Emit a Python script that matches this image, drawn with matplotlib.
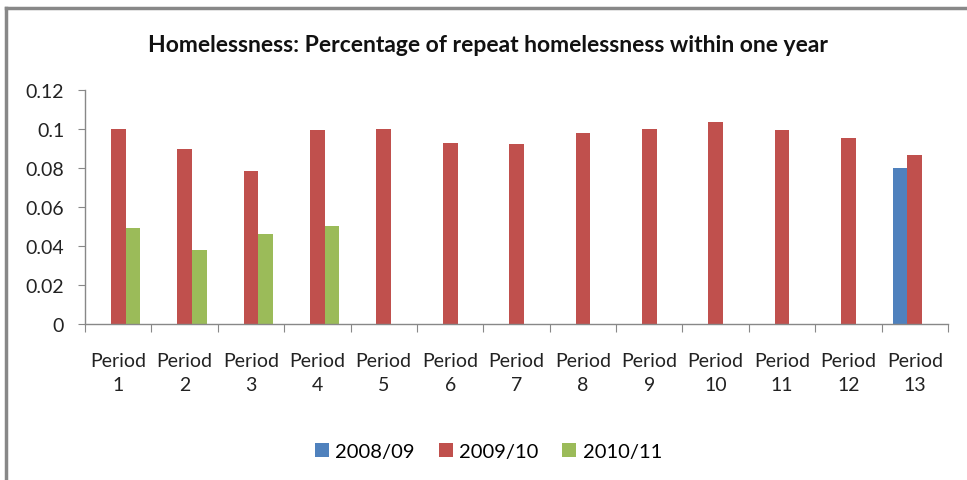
import numpy as np
import matplotlib.pyplot as plt
from matplotlib.lines import Line2D
from matplotlib.patches import Patch

plt.rcParams['font.family'] = ['Lato', 'DejaVu Sans']

periods = ['Period\n%d' % i for i in range(1, 14)]
series = ['2008/09', '2009/10', '2010/11']
colors = ['#4f81bd', '#c0504d', '#9bbb59']

# nan where a year has no figure for that period
v0809 = [np.nan] * 12 + [0.080]
v0910 = [0.100, 0.090, 0.0785, 0.0995, 0.100, 0.093, 0.0925, 0.098, 0.100, 0.1035, 0.0995, 0.0955, 0.0865]
v1011 = [0.049, 0.038, 0.046, 0.0505] + [np.nan] * 9
values = [v0809, v0910, v1011]

fig = plt.figure(figsize=(9.67, 4.81), dpi=100)
ax = fig.add_axes([0.0879, 0.3243, 0.8925, 0.4865])

x = np.arange(len(periods))
w = 1 / 4.5  # excel-style 150% gap width
for i, (vals, c) in enumerate(zip(values, colors)):
    ax.bar(x + (i - 1) * w, vals, width=w, color=c, edgecolor='none')

ax.set_xlim(-0.5, len(periods) - 0.5)
ax.set_ylim(0, 0.12)
ax.set_yticks([0, 0.02, 0.04, 0.06, 0.08, 0.1, 0.12])
ax.set_yticklabels(['0', '0.02', '0.04', '0.06', '0.08', '0.1', '0.12'])

# category boundaries carry the ticks, labels sit in the middle
ax.set_xticks(np.arange(len(periods) + 1) - 0.5)
ax.set_xticklabels([])
ax.set_xticks(x, minor=True)
ax.set_xticklabels(periods, minor=True, fontsize=14, color='#222222', linespacing=1.55)
ax.tick_params(axis='x', which='minor', length=0, pad=20)
ax.tick_params(axis='x', which='major', length=6, color='#888888', direction='out')
ax.tick_params(axis='y', length=5, color='#888888', labelsize=14, labelcolor='#222222', pad=10)

for s in ['top', 'right']:
    ax.spines[s].set_visible(False)
for s in ['left', 'bottom']:
    ax.spines[s].set_color('#888888')
    ax.spines[s].set_linewidth(1)

fig.text(0.505, 0.905, 'Homelessness: Percentage of repeat homelessness within one year',
         ha='center', va='center', fontsize=16.5, fontweight='bold', color='#111111')

handles = [Patch(facecolor=c, edgecolor='none') for c in colors]
fig.legend(handles, series, loc='center', bbox_to_anchor=(0.505, 0.06), ncol=3,
           frameon=False, fontsize=14.5, handlelength=0.7, handleheight=0.7,
           handletextpad=0.3, columnspacing=1.2)

# outer chart border (top and left edges)
fig.add_artist(Line2D([0.006, 1], [0.981, 0.981], color='#888888', lw=2.5, transform=fig.transFigure))
fig.add_artist(Line2D([0.006, 0.006], [0, 0.981], color='#888888', lw=2.5, transform=fig.transFigure))

fig.savefig('out.png', dpi=100)
